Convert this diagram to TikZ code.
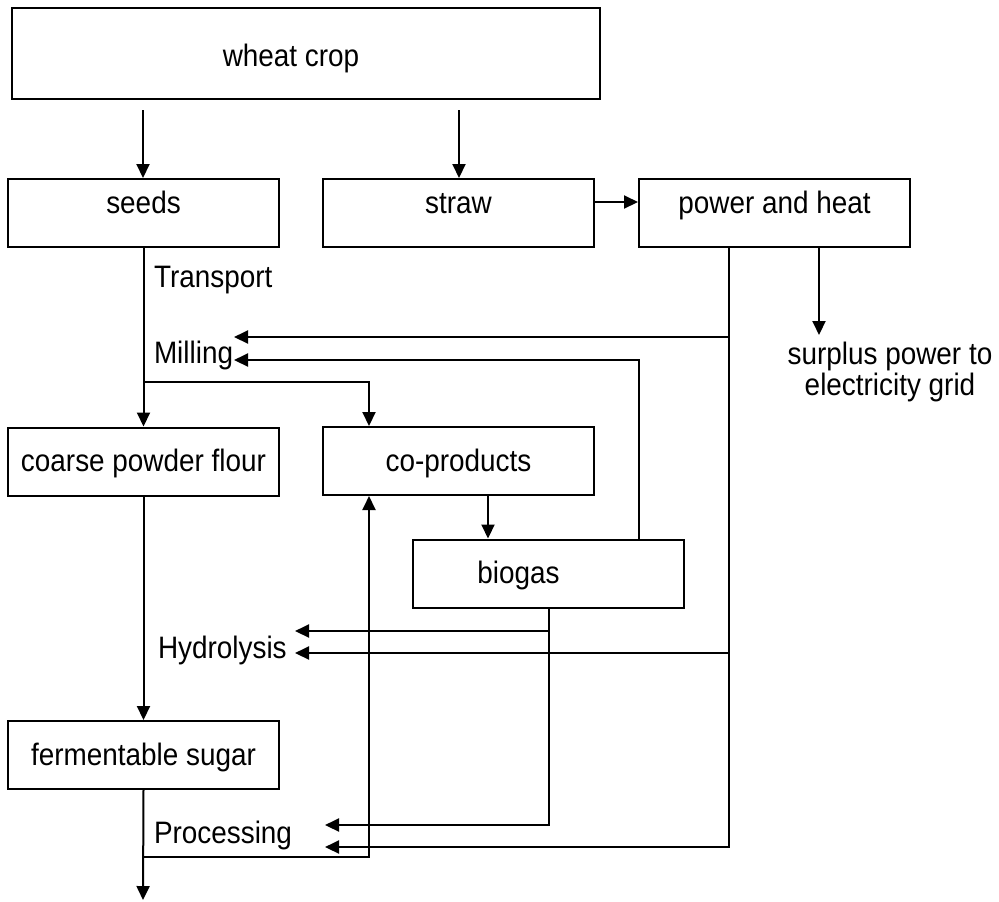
\documentclass[tikz,border=0pt]{standalone}
\usepackage{fontspec}
\setmainfont{Liberation Sans}[FakeStretch=0.9]
\usetikzlibrary{arrows.meta}
\tikzset{
  box/.style={draw, line width=1pt, minimum width=135.5pt, minimum height=34pt, inner sep=0pt, text height=11pt, text depth=1pt},
  toprow/.style={text height=6pt, text depth=6pt},
  arr/.style={-{Triangle[length=7pt,width=6.5pt]}, line width=1pt},
  lbl/.style={anchor=west, inner sep=0pt},
}
\begin{document}
\begin{tikzpicture}[x=0.5pt, y=-0.5pt, line width=1pt, font=\fontsize{15.5pt}{15.5pt}\selectfont]
 \useasboundingbox (0,0) rectangle (999,901);
 % boxes
 \node[box, minimum width=294pt, minimum height=45.5pt, text height=12.5pt, text depth=0pt] (wheat) at (306,53.5) {wheat crop\hspace*{15pt}};
 \node[box, toprow] (seeds) at (143.5,213) {seeds};
 \node[box, toprow] (straw) at (458.5,213) {straw};
 \node[box, toprow] (power) at (774.5,213) {power and heat};
 \node[box] (coarse) at (143.5,461.5) {coarse powder flour};
 \node[box] (coprod) at (458.5,461) {co-products};
 \node[box] (biogas) at (548.5,573.5) {biogas\hspace*{30pt}};
 \node[box] (sugar) at (143.5,755) {fermentable sugar};
 % step labels
 \node[lbl] (transport) at (153,280) {Transport};
 \node[lbl] (milling) at (153,355) {Milling};
 \node[lbl] (hydro) at (157,650) {Hydrolysis};
 \node[lbl] (proc) at (153,835) {Processing};
 \node[anchor=north, align=center, inner sep=0pt] (grid) at (890,341) {surplus power to\\electricity grid};
 % helper points
 \coordinate (w1) at (143,110);
 \coordinate (w2) at (459,110);
 \coordinate (pw) at (729,247);
 \coordinate (gridtip) at (819,335);
 \coordinate (split1) at (143,382);
 \coordinate (split2) at (143,857);
 \coordinate (up) at (369,857);
 \coordinate (bg) at (639,540);
 \coordinate (cb) at (488,0);
 \coordinate (mill1) at (234,337);
 \coordinate (mill2) at (234,360);
 \coordinate (hyd1) at (295,631);
 \coordinate (hyd2) at (295,653);
 \coordinate (proc1) at (325,825);
 \coordinate (proc2) at (325,847);
 \coordinate (out) at (143,900);
 % main flow
 \draw[arr] (w1) -- (w1 |- seeds.north);
 \draw[arr] (w2) -- (w2 |- straw.north);
 \draw[arr] ([yshift=5.5pt]straw.east) -- ([yshift=5.5pt]power.west);
 \draw[arr] (power.south -| gridtip) -- (gridtip);
 \draw[arr] (seeds.south) -- (coarse.north);
 \draw[arr] (split1) -| (up |- coprod.north);
 \draw[arr] (coarse.south) -- (sugar.north);
 \draw[arr] (sugar.south) -- (out);
 \draw[arr] (split2) -| (up |- coprod.south);
 \draw[arr] (cb |- coprod.south) -- (cb |- biogas.north);
 % energy returns
 \draw[arr] (pw) |- (mill1);
 \draw[arr] (pw) |- (hyd2);
 \draw[arr] (pw) |- (proc2);
 \draw[arr] (bg) |- (mill2);
 \draw[arr] (biogas.south) |- (hyd1);
 \draw[arr] (biogas.south) |- (proc1);
\end{tikzpicture}
\end{document}
